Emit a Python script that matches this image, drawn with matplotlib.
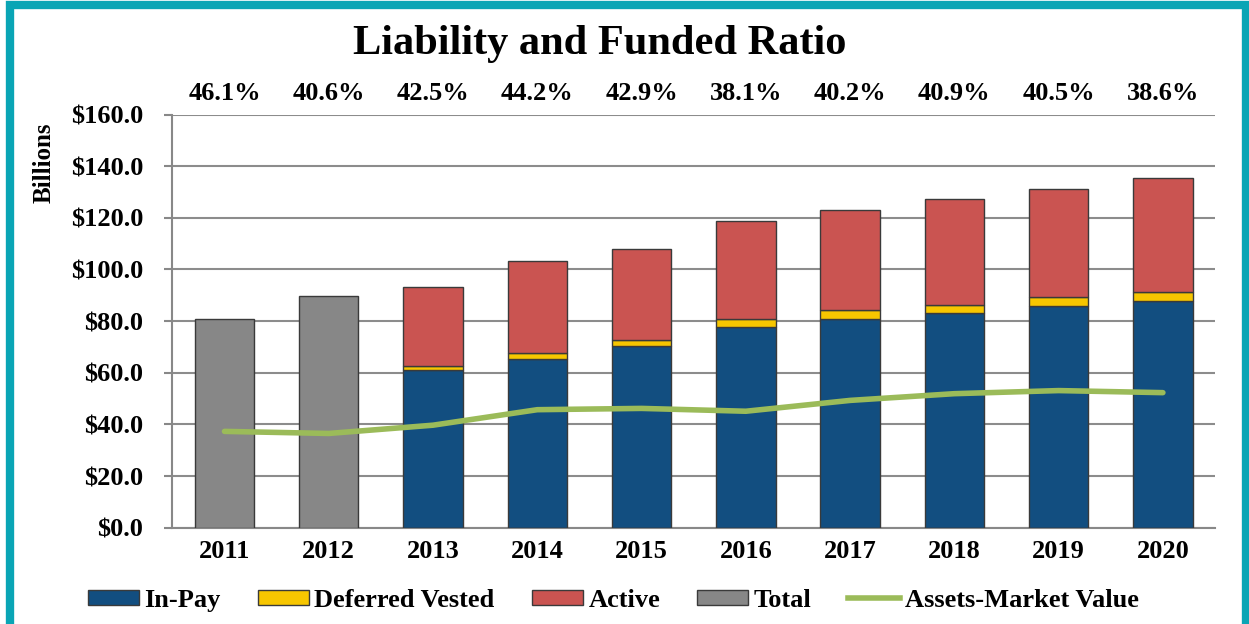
import matplotlib.pyplot as plt
import numpy as np
from matplotlib.patches import Patch, Rectangle
from matplotlib.lines import Line2D

plt.rcParams['font.family'] = ['Liberation Serif', 'DejaVu Serif']
plt.rcParams['font.weight'] = 'bold'

# Liability ($ billions) and funded ratio by year
years = ['2011', '2012', '2013', '2014', '2015', '2016', '2017', '2018', '2019', '2020']
in_pay = [0, 0, 60.9, 65.5, 70.2, 77.8, 81.0, 83.0, 85.7, 87.9]
deferred = [0, 0, 1.6, 2.1, 2.5, 3.2, 3.3, 3.2, 3.5, 3.5]
active = [0, 0, 30.8, 35.7, 35.1, 37.7, 38.7, 40.9, 42.0, 44.0]
total = [81.0, 89.8, 0, 0, 0, 0, 0, 0, 0, 0]
assets = [37.3, 36.5, 39.7, 45.7, 46.2, 45.1, 49.3, 51.9, 53.1, 52.3]
funded = ['46.1%', '40.6%', '42.5%', '44.2%', '42.9%', '38.1%', '40.2%', '40.9%', '40.5%', '38.6%']

c_blue = '#124E80'
c_yellow = '#F7C600'
c_red = '#CA5451'
c_gray = '#878787'
c_green = '#9BBB59'
edge = '#3a3a3a'
fs = 19

fig = plt.figure(figsize=(12.49, 6.24), dpi=100)
ax = fig.add_axes([0.138, 0.1543, 0.8348, 0.6622])

x = np.arange(len(years))
w = 0.57
inp = np.array(in_pay)
dfr = np.array(deferred)
ax.bar(x, inp, w, color=c_blue, edgecolor=edge, linewidth=1, zorder=3)
ax.bar(x, dfr, w, bottom=inp, color=c_yellow, edgecolor=edge, linewidth=1, zorder=3)
ax.bar(x, active, w, bottom=inp + dfr, color=c_red, edgecolor=edge, linewidth=1, zorder=3)
ax.bar(x, total, w, color=c_gray, edgecolor=edge, linewidth=1, zorder=3)
ax.plot(x, assets, color=c_green, lw=4, solid_capstyle='round', zorder=4)

ax.set_xlim(-0.5, len(years) - 0.5)
ax.set_ylim(0, 160)
ax.set_yticks(np.arange(0, 161, 20))
ax.set_yticklabels(['$%.1f' % v for v in np.arange(0, 161, 20)], fontsize=fs, fontweight='bold')
ax.set_xticks(x)
ax.set_xticklabels(years, fontsize=fs, fontweight='bold')
ax.tick_params(axis='x', length=0, pad=9)
ax.tick_params(axis='y', length=6, color='#888888', width=1.5, pad=15)
ax.grid(axis='y', color='#8c8c8c', lw=1.5, zorder=0)
for s in ['top', 'right']:
    ax.spines[s].set_visible(False)
ax.spines['left'].set_color('#888888')
ax.spines['left'].set_linewidth(1.5)
ax.spines['bottom'].set_color('#888888')
ax.spines['bottom'].set_linewidth(1.5)

for i, lab in enumerate(funded):
    ax.text(i, 1.05, lab, transform=ax.get_xaxis_transform(), ha='center', va='center',
            fontsize=fs, fontweight='bold')

fig.text(0.48, 0.93, 'Liability and Funded Ratio', ha='center', va='center',
         fontsize=30.5, fontweight='bold')
fig.text(0.035, 0.739, 'Billions', rotation=90, ha='center', va='center',
         fontsize=18, fontweight='bold')

handles = [Patch(facecolor=c_blue, edgecolor=edge), Patch(facecolor=c_yellow, edgecolor=edge),
           Patch(facecolor=c_red, edgecolor=edge), Patch(facecolor=c_gray, edgecolor=edge),
           Line2D([0], [0], color=c_green, lw=4)]
labels = ['In-Pay', 'Deferred Vested', 'Active', 'Total', 'Assets-Market Value']
fig.legend(handles, labels, loc='center', bbox_to_anchor=(0.491, 0.038), ncol=5, frameon=False,
           fontsize=fs, handlelength=1.95, handleheight=0.55, handletextpad=0.2, columnspacing=1.4)

# teal frame
fig.patches.append(Rectangle((0.008, -0.02), 0.9896, 1.0115, transform=fig.transFigure,
                             fill=False, edgecolor='#0AA5B5', lw=6))

fig.savefig('out.png', dpi=100)
